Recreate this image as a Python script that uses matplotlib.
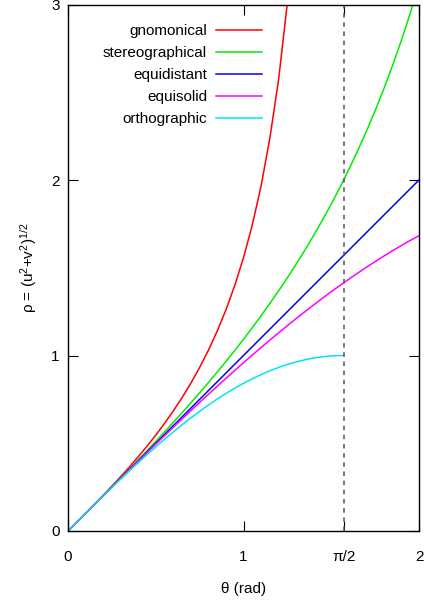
import numpy as np
import matplotlib
matplotlib.use("Agg")
import matplotlib.pyplot as plt

plt.rcParams['font.family'] = ['Liberation Sans', 'DejaVu Sans']
plt.rcParams['mathtext.default'] = 'regular'
plt.rcParams['font.size'] = 11

# ---- data ----
theta_g = [0.00, 0.05, 0.10, 0.15, 0.20, 0.25, 0.30, 0.35, 0.40, 0.45, 0.50, 0.55, 0.60,
           0.65, 0.70, 0.75, 0.80, 0.85, 0.90, 0.95, 1.00, 1.05, 1.10, 1.15, 1.20, 1.25, 1.30]
gnomonical = [0.0, 0.05004, 0.10033, 0.15114, 0.20271, 0.25534, 0.30934, 0.36503, 0.42279,
              0.48306, 0.54630, 0.61311, 0.68414, 0.76020, 0.84229, 0.93160, 1.02964,
              1.13833, 1.26016, 1.39838, 1.55741, 1.74332, 1.96476, 2.23716, 2.57215,
              3.00957, 3.60210]

theta_full = [0.00, 0.05, 0.10, 0.15, 0.20, 0.25, 0.30, 0.35, 0.40, 0.45, 0.50, 0.55, 0.60,
              0.65, 0.70, 0.75, 0.80, 0.85, 0.90, 0.95, 1.00, 1.05, 1.10, 1.15, 1.20, 1.25,
              1.30, 1.35, 1.40, 1.45, 1.50, 1.55, 1.60, 1.65, 1.70, 1.75, 1.80, 1.85, 1.90,
              1.95, 2.00]
stereographical = [0.0, 0.05001, 0.10008, 0.15028, 0.20067, 0.25131, 0.30227, 0.35363,
                   0.40542, 0.45778, 0.51068, 0.56425, 0.61867, 0.67386, 0.73006, 0.78720,
                   0.84557, 0.90510, 0.96611, 1.02848, 1.09260, 1.15838, 1.22622, 1.29610,
                   1.36828, 1.44292, 1.52040, 1.60074, 1.68458, 1.77190, 1.86320, 1.95886,
                   2.05928, 2.16506, 2.27666, 2.39474, 2.52032, 2.65400, 2.79676, 2.94952,
                   3.11482]
equidistant = [0.00, 0.05, 0.10, 0.15, 0.20, 0.25, 0.30, 0.35, 0.40, 0.45, 0.50, 0.55, 0.60,
               0.65, 0.70, 0.75, 0.80, 0.85, 0.90, 0.95, 1.00, 1.05, 1.10, 1.15, 1.20, 1.25,
               1.30, 1.35, 1.40, 1.45, 1.50, 1.55, 1.60, 1.65, 1.70, 1.75, 1.80, 1.85, 1.90,
               1.95, 2.00]
equisolid = [0.0, 0.04999, 0.09996, 0.14986, 0.19967, 0.24935, 0.29888, 0.34822, 0.39734,
             0.44621, 0.49481, 0.54309, 0.59104, 0.63863, 0.68580, 0.73255, 0.77884,
             0.82464, 0.86993, 0.91468, 0.95885, 1.00243, 1.04537, 1.08767, 1.12928,
             1.17019, 1.21037, 1.24979, 1.28844, 1.32627, 1.36328, 1.39943, 1.43471,
             1.46910, 1.50256, 1.53509, 1.56665, 1.59724, 1.62683, 1.65540, 1.68294]

theta_o = [0.00, 0.05, 0.10, 0.15, 0.20, 0.25, 0.30, 0.35, 0.40, 0.45, 0.50, 0.55, 0.60,
           0.65, 0.70, 0.75, 0.80, 0.85, 0.90, 0.95, 1.00, 1.05, 1.10, 1.15, 1.20, 1.25,
           1.30, 1.35, 1.40, 1.45, 1.50, 1.55, 1.5708]
orthographic = [0.0, 0.04998, 0.09983, 0.14944, 0.19867, 0.24740, 0.29552, 0.34290, 0.38942,
                0.43497, 0.47943, 0.52269, 0.56464, 0.60519, 0.64422, 0.68164, 0.71736,
                0.75128, 0.78333, 0.81342, 0.84147, 0.86742, 0.89121, 0.91276, 0.93204,
                0.94898, 0.96356, 0.97572, 0.98545, 0.99271, 0.99749, 0.99978, 1.0]

x_ticks = [0, 1, 1.5708, 2]
x_ticklabels = ['0', '1', 'π/2', '2']
y_ticks = [0, 1, 2, 3]
y_ticklabels = ['0', '1', '2', '3']
half_pi = 1.5708

# ---- figure ----
fig = plt.figure(figsize=(4.24, 6.02), dpi=100)
ax = fig.add_axes([68/424, 1 - 531/602, (419-68)/424, (531-4.5)/602])

ax.plot(theta_g, gnomonical, color='#ff0000', lw=1.1, label='gnomonical')
ax.plot(theta_full, stereographical, color='#00ee00', lw=1.1, label='stereographical')
ax.plot(theta_full, equidistant, color='#0000ff', lw=1.1, label='equidistant')
ax.plot(theta_full, equisolid, color='#ff00ff', lw=1.1, label='equisolid')
ax.plot(theta_o, orthographic, color='#00e5ee', lw=1.1, label='orthographic')
ax.axvline(half_pi, color='#555555', lw=1.1, dashes=(3, 3))

ax.set_xlim(0, 2)
ax.set_ylim(0, 3)
ax.set_xticks(x_ticks)
ax.set_xticklabels(x_ticklabels)
ax.set_yticks(y_ticks)
ax.set_yticklabels(y_ticklabels)
ax.tick_params(axis='both', direction='in', length=7, width=0.8, top=True, right=True)
ax.tick_params(axis='x', pad=14)
ax.tick_params(axis='y', pad=6)
for lab in ax.get_yticklabels():
    lab.set_verticalalignment('center_baseline')
for s in ax.spines.values():
    s.set_linewidth(1.0)

ax.set_xlabel('θ (rad)', labelpad=13)
ax.set_ylabel('ρ = (u$^{2}$+v$^{2}$)$^{1/2}$', labelpad=9)

leg = ax.legend(loc='upper right', bbox_to_anchor=(0.553, 0.963), markerfirst=False,
                frameon=False, borderpad=0, borderaxespad=0, handlelength=3.0,
                handletextpad=0.6, labelspacing=0.53, fontsize=11)

fig.savefig('out.png', dpi=100)
